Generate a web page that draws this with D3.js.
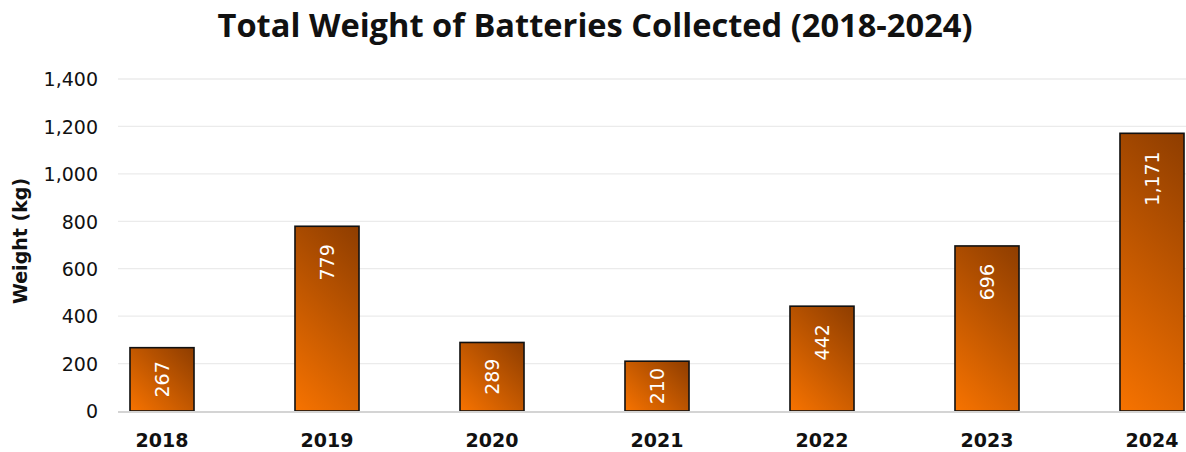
<!DOCTYPE html>
<html>
<head>
<meta charset="utf-8">
<script src="https://cdn.jsdelivr.net/npm/d3@7"></script>
<style>
  html, body { margin: 0; padding: 0; background: #fff; }
  svg { display: block; }
</style>
</head>
<body>
<svg id="chart" width="1186" height="452"></svg>
<script>
// Battery collection totals by year
const years = ["2018", "2019", "2020", "2021", "2022", "2023", "2024"];
const weights = [267, 779, 289, 210, 442, 696, 1171];
const yTicks = [0, 200, 400, 600, 800, 1000, 1200, 1400];

const W = 1186, H = 452;
const svg = d3.select("#chart");

const plotLeft = 118, plotRight = 1186;
const yTop = 79, yBottom = 411;

const x = d3.scaleBand()
  .domain(years)
  .range([79.5, 1234.5])
  .paddingInner(0.612)
  .paddingOuter(0.306);

const y = d3.scaleLinear().domain([0, 1400]).range([yBottom, yTop]);

// Per-bar 45° gradient: bright orange at the lower left, dark brown at the upper right
const defs = svg.append("defs");
weights.forEach((d, i) => {
  const x0 = x(years[i]), w = x.bandwidth();
  const y0 = y(d), h = y(0) - y(d);
  const s = (w + h) / 2;
  const g = defs.append("linearGradient")
    .attr("id", "barFill" + i)
    .attr("gradientUnits", "userSpaceOnUse")
    .attr("x1", x0).attr("y1", y0 + h)
    .attr("x2", x0 + s).attr("y2", y0 + h - s);
  g.append("stop").attr("offset", "0%").attr("stop-color", "#F77300");
  g.append("stop").attr("offset", "100%").attr("stop-color", "#8E3D00");
});

// Gridlines
const grid = svg.append("g");
grid.selectAll("line")
  .data(yTicks.filter(d => d > 0))
  .join("line")
  .attr("x1", plotLeft).attr("x2", plotRight)
  .attr("y1", d => y(d)).attr("y2", d => y(d))
  .attr("stroke", "#ebebeb").attr("stroke-width", 1.3);

// Y axis tick labels
const yAxis = d3.axisLeft(y)
  .tickValues(yTicks)
  .tickFormat(d3.format(","))
  .tickSize(0)
  .tickPadding(0);
const gy = svg.append("g").attr("transform", "translate(98,0)").call(yAxis);
gy.select(".domain").remove();
gy.selectAll("text")
  .attr("font-family", "DejaVu Sans, sans-serif")
  .attr("font-size", 19)
  .attr("fill", "#111")
  .attr("dy", "0.36em");

// Bars
svg.append("g").selectAll("rect")
  .data(weights)
  .join("rect")
  .attr("x", (d, i) => x(years[i]))
  .attr("width", x.bandwidth())
  .attr("y", d => y(d))
  .attr("height", d => y(0) - y(d))
  .attr("fill", (d, i) => `url(#barFill${i})`)
  .attr("stroke", "#111")
  .attr("stroke-width", 1.6);

// Baseline
svg.append("line")
  .attr("x1", plotLeft).attr("x2", plotRight)
  .attr("y1", y(0) + 1).attr("y2", y(0) + 1)
  .attr("stroke", "#d4d4d4").attr("stroke-width", 2);

// Value labels, rotated, near the top of each bar
const fmt = d3.format(",");
const labels = svg.append("g").selectAll("text")
  .data(weights)
  .join("text")
  .attr("font-family", "DejaVu Sans, sans-serif")
  .attr("font-size", 19)
  .attr("fill", "#fff")
  .attr("text-anchor", "end")
  .attr("dy", "0.36em")
  .text(d => fmt(d));
labels.each(function(d, i) {
  const len = this.getComputedTextLength();
  const top = y(d), h = y(0) - y(d);
  const gap = Math.min(18, (h - len) / 2);
  const cx = x(years[i]) + x.bandwidth() / 2;
  const cy = top + gap;
  d3.select(this).attr("transform", `translate(${cx},${cy}) rotate(-90)`);
});

// X axis category labels
svg.append("g").selectAll("text")
  .data(years)
  .join("text")
  .attr("x", d => x(d) + x.bandwidth() / 2)
  .attr("y", 447)
  .attr("text-anchor", "middle")
  .attr("font-family", "DejaVu Sans, sans-serif")
  .attr("font-weight", "bold")
  .attr("font-size", 19)
  .attr("fill", "#111")
  .text(d => d);

// Y axis title
svg.append("text")
  .attr("transform", "translate(27,241) rotate(-90)")
  .attr("text-anchor", "middle")
  .attr("font-family", "DejaVu Sans, sans-serif")
  .attr("font-weight", "bold")
  .attr("font-size", 19)
  .attr("fill", "#111")
  .text("Weight (kg)");

// Chart title
const title = svg.append("text")
  .attr("x", 595)
  .attr("y", 37)
  .attr("text-anchor", "middle")
  .attr("font-family", "Open Sans, sans-serif")
  .attr("font-weight", "bold")
  .attr("font-size", 30)
  .attr("fill", "#111")
  .text("Total Weight of Batteries Collected (2018-2024)");
const tl = title.node().getComputedTextLength();
title.attr("font-size", 30 * 755 / tl);
</script>
</body>
</html>
